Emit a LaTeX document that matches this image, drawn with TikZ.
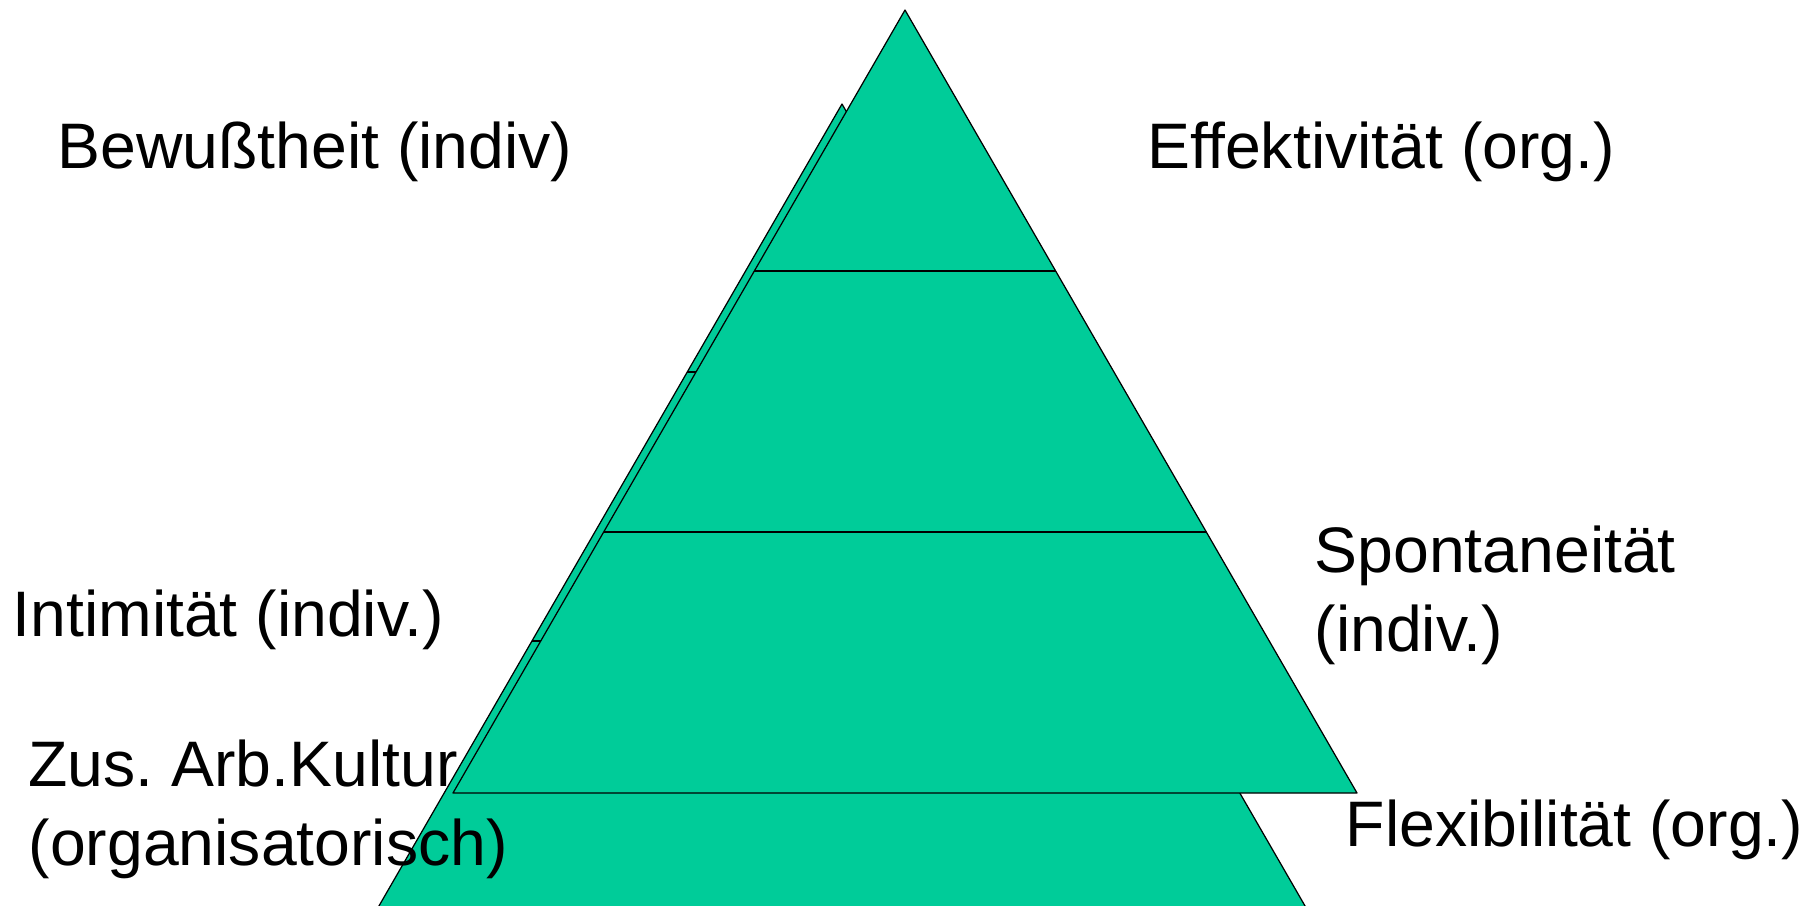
\documentclass[tikz,border=0pt]{standalone}
\usepackage{fontspec}
\setmainfont{Liberation Sans}
\usepackage{xcolor}
\usepackage{tikz}
\usetikzlibrary{calc}
\definecolor{pyrgreen}{RGB}{0,204,153}
\frenchspacing

\begin{document}
\begin{tikzpicture}[every node/.style={font=\fontsize{18.3}{22.2}\selectfont, inner sep=0pt},
    pyrface/.style={fill=pyrgreen, draw=black, line width=0.35pt, line join=round},
    pyrband/.style={draw=black, line width=0.5pt}]

    \useasboundingbox (0,0) rectangle (18.09,9.05);
    \clip (0,0) rectangle (18.09,9.05);

    %% Back pyramid (offset up-left, mostly hidden)
    \coordinate (bTop) at (8.42,8.01);
    \coordinate (bLeft) at (3.772,-0.04);
    \coordinate (bRight) at (13.068,-0.04);
    \filldraw[pyrface] (bTop) -- (bLeft) -- (bRight) -- cycle;
    \foreach \f in {1,2} {
      \draw[pyrband] ($(bTop)!\f/3!(bLeft)$) -- ($(bTop)!\f/3!(bRight)$);
    }

    %% Front pyramid, three bands
    \coordinate (fTop) at (9.05,8.95);
    \coordinate (fLeft) at (4.53,1.12);
    \coordinate (fRight) at (13.57,1.12);
    \filldraw[pyrface] (fTop) -- (fLeft) -- (fRight) -- cycle;
    \foreach \f in {1,2} {
      \draw[pyrband] ($(fTop)!\f/3!(fLeft)$) -- ($(fTop)!\f/3!(fRight)$);
    }

    %% Labels (two-line nodes sit on their last line)
    \node[anchor=base west] (bewusst) at (0.57,7.37) {Bewußtheit (indiv)};
    \node[anchor=base west] (effekt) at (11.47,7.37) {Effektivität (org.)};
    \node[anchor=base west, align=left] (spontan) at (13.14,2.54)
      {Spontaneität\\(indiv.)};
    \node[anchor=base west] (intim) at (0.12,2.69) {Intimität (indiv.)};
    \node[anchor=base west, align=left] (kultur) at (0.28,0.40)
      {Zus. Arb.Kultur\\(organisatorisch)};
    \node[anchor=base west] (flex) at (13.45,0.59) {Flexibilität (org.)};

\end{tikzpicture}
\end{document}
